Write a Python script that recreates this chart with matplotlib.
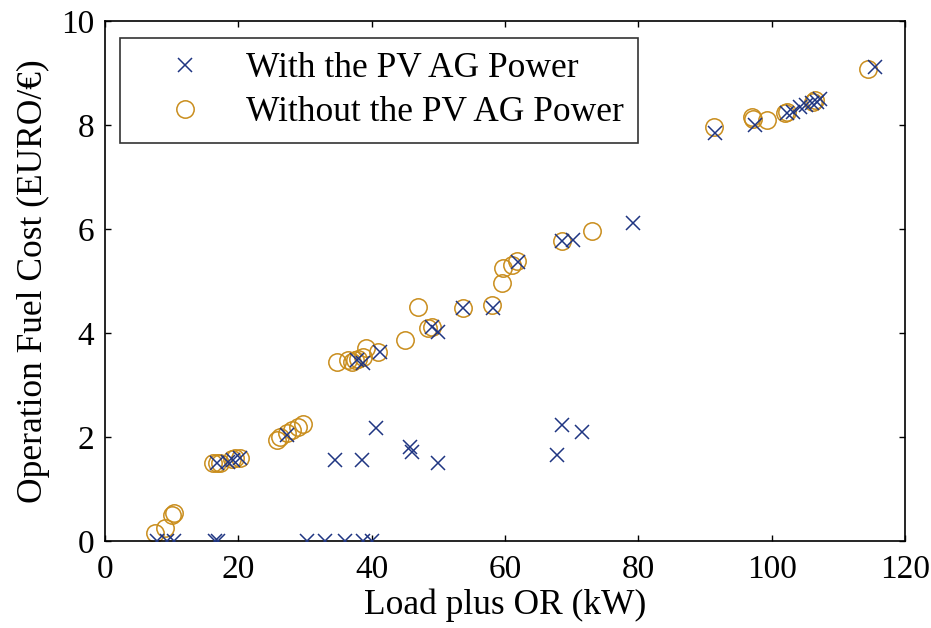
import numpy as np
import matplotlib
matplotlib.use("Agg")
import matplotlib.pyplot as plt

plt.rcParams['font.family'] = ['Liberation Serif', 'DejaVu Serif']

# Data (kW, EURO)
with_pv_x = [7.8, 9.3, 10.3, 16.5, 17.0, 30.3, 33.0, 36.0, 38.7, 40.0,
             16.8, 18.5, 19.2, 20.2, 27.3,
             37.8, 38.7, 41.2,
             34.5, 38.5, 40.6, 45.7, 46.0, 49.9,
             49.0, 50.0, 53.7, 58.2, 62.0, 68.5, 70.2, 79.2,
             68.5, 71.5, 67.8,
             91.5, 97.5, 102.3, 103.2, 104.2, 105.1, 106.0, 106.8, 107.2, 115.5]
with_pv_y = [0, 0, 0, 0, 0, 0, 0, 0, 0, 0,
             1.50, 1.52, 1.56, 1.60, 2.04,
             3.48, 3.42, 3.63,
             1.56, 1.56, 2.17, 1.81, 1.71, 1.50,
             4.12, 4.02, 4.48, 4.48, 5.37, 5.77, 5.79, 6.12,
             2.23, 2.10, 1.65,
             7.85, 8.00, 8.23, 8.25, 8.35, 8.38, 8.42, 8.44, 8.50, 9.12]

without_pv_x = [7.5, 9.0, 10.0, 10.35,
                16.2, 16.8, 17.3, 19.0, 19.5, 20.2,
                25.8, 26.2, 27.3, 28.0, 28.9, 29.7,
                34.8, 36.4, 37.0, 37.5, 38.0, 38.7, 39.1, 40.9,
                45.0, 47.0, 48.5, 49.0,
                53.7, 58.0, 59.5, 59.7, 61.0, 61.8,
                68.5, 73.0,
                91.3, 97.0, 97.2, 99.3, 102.0, 102.3, 106.2, 106.5, 114.4]
without_pv_y = [0.15, 0.25, 0.50, 0.54,
                1.50, 1.50, 1.50, 1.58, 1.60, 1.60,
                1.94, 2.00, 2.08, 2.13, 2.19, 2.25,
                3.44, 3.48, 3.44, 3.48, 3.50, 3.54, 3.71, 3.63,
                3.87, 4.50, 4.10, 4.12,
                4.48, 4.54, 4.96, 5.25, 5.31, 5.38,
                5.77, 5.96,
                7.96, 8.15, 8.12, 8.10, 8.23, 8.25, 8.44, 8.48, 9.08]

x_ticks = [0, 20, 40, 60, 80, 100, 120]
y_ticks = [0, 2, 4, 6, 8, 10]

navy = '#1f3582'
gold = '#c98d1c'
fs_tick = 24
fs_lab = 25.5

fig = plt.figure(figsize=(9.31, 6.28), dpi=100)
ax = fig.add_axes([0.1128, 0.1385, 0.972 - 0.1128, 0.9666 - 0.1385])

h_without, = ax.plot(without_pv_x, without_pv_y, linestyle='none', marker='o',
                     markersize=12.5, markerfacecolor='none', markeredgecolor=gold,
                     markeredgewidth=1.1, zorder=2)
h_with, = ax.plot(with_pv_x, with_pv_y, linestyle='none', marker='x',
                  markersize=10, markeredgecolor=navy, markeredgewidth=1.1,
                  zorder=3)

ax.set_xlim(0, 120)
ax.set_ylim(0, 10)
ax.set_xticks(x_ticks)
ax.set_yticks(y_ticks)
ax.tick_params(direction='in', length=4, width=1, top=True, right=True,
               labelsize=fs_tick)
ax.tick_params(axis='x', pad=10)
ax.tick_params(axis='y', pad=8)
for s in ax.spines.values():
    s.set_linewidth(1.2)

ax.set_xlabel('Load plus OR (kW)', fontsize=fs_lab, labelpad=2)
ax.set_ylabel('Operation Fuel Cost (EURO/€)', fontsize=fs_lab, labelpad=8)

leg = ax.legend([h_with, h_without],
                ['With the PV AG Power', 'Without the PV AG Power'],
                loc='upper left', bbox_to_anchor=(0.019, 0.967),
                borderaxespad=0, fontsize=fs_lab, frameon=True, fancybox=False,
                borderpad=0.4, handlelength=2.85, handletextpad=0.31,
                labelspacing=0.3, numpoints=1)
leg.get_frame().set_edgecolor('black')
leg.get_frame().set_linewidth(1.2)

fig.savefig('out.png', dpi=100)
